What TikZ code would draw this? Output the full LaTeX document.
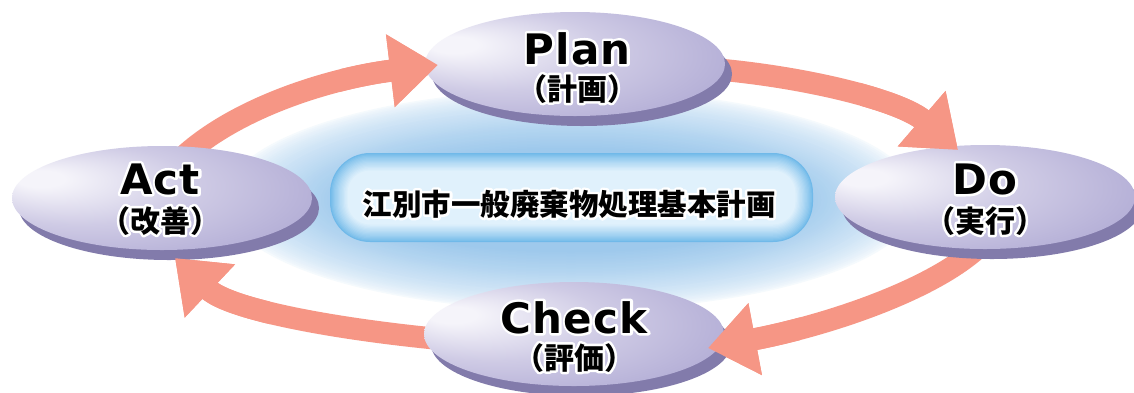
\documentclass[tikz,border=0pt]{standalone}
\usepackage{fontspec}
\usetikzlibrary{shapes.geometric,arrows.meta}
\newfontfamily\latf{DejaVu Sans}[LetterSpace=3]
\newfontfamily\cjkf{Noto Sans CJK JP}
\definecolor{arr}{RGB}{246,150,133}
\definecolor{ellHi}{RGB}{245,244,250}
\definecolor{ellMid}{RGB}{207,203,229}
\definecolor{ellR}{RGB}{166,160,207}
\definecolor{ellSh}{RGB}{130,123,171}
\definecolor{glowC}{RGB}{158,201,236}
\definecolor{rectE}{RGB}{112,185,233}
\definecolor{rectIn}{RGB}{224,241,252}
\pgfdeclareradialshading{ellsh}{\pgfpoint{-22bp}{10bp}}{color(0bp)=(ellHi); color(4bp)=(ellHi); color(19bp)=(ellMid); color(42bp)=(ellR); color(50bp)=(ellR)}
% white outline: stroked copy under the filled text
\newcommand\halo[1]{\makebox[0pt][l]{\special{pdf:literal direct 1 Tr 5 w 1 j 1 1 1 RG}#1\special{pdf:literal direct 0 Tr 1 w 0 j 0 0 0 RG}}#1}
\tikzset{
  ellbase/.style={ellipse, minimum width=300pt, minimum height=104pt, inner sep=0pt},
  ellface/.style={ellbase, shade, shading=ellsh},
  ellshadow/.style={ellbase, fill=ellSh},
  arrowline/.style={line width=22pt, draw=arr, -{Triangle[width=70pt 0 1, length=48pt 0 1, color=arr]}},
  latlbl/.style={font=\latf\bfseries\fontsize{42}{42}\selectfont, anchor=base, inner sep=0pt},
  cjklbl/.style={font=\cjkf\bfseries\fontsize{30}{30}\selectfont, anchor=base, inner sep=0pt},
}
\newcommand\arrA{\draw[arrowline] (a1s) .. controls (225,110) and (330,78) .. (a1e);}
\newcommand\arrB{\draw[arrowline] (a2s) .. controls (800,75) and (900,100) .. (a2e);}
\newcommand\arrC{\draw[arrowline] (a3s) .. controls (950,285) and (830,325) .. (a3e);}
\newcommand\arrD{\draw[arrowline] (a4s) .. controls (340,330) and (230,310) .. (a4e);}
\begin{document}
\begin{tikzpicture}[x=1pt,y=-1pt]
\useasboundingbox (0,0) rectangle (1134,392);
\fill[white] (0,0) rectangle (1134,392);
% background glow
\coordinate (glow) at (571,200);
\foreach \i in {0,...,40}{
  \pgfmathsetmacro\tt{\i/40}
  \pgfmathsetmacro\rx{350-\tt*125}
  \pgfmathsetmacro\ry{112-\tt*60}
  \pgfmathtruncatemacro\pp{100*(\tt)^0.6}
  \fill[glowC!\pp!white] (glow) ellipse [x radius=\rx pt, y radius=\ry pt];
}
% central box
\node[fill=rectE, rounded corners=40pt, minimum width=483pt, minimum height=89pt, inner sep=0pt] (core) at (571.5,197.5) {};
\foreach \i in {1,...,14}{
  \pgfmathsetmacro\dd{\i*1.25}
  \pgfmathtruncatemacro\pp{100*(\i/14)^0.8}
  \pgfmathsetmacro\rr{40-\dd}
  \fill[rectIn!\pp!rectE, rounded corners=\rr pt] (330+\dd,153+\dd) rectangle (813-\dd,242-\dd);
}
\node[font=\cjkf\bfseries\fontsize{29.5}{30}\selectfont, inner sep=0pt] (title) at (569,204) {\halo{江別市一般廃棄物処理基本計画}};
% arrow end points
\coordinate (a1s) at (172,168); \coordinate (a1e) at (438,65);
\coordinate (a2s) at (700,68);  \coordinate (a2e) at (958,150);
\coordinate (a3s) at (990,235); \coordinate (a3e) at (708,348);
\coordinate (a4s) at (450,340); \coordinate (a4e) at (175,258);
\arrA \arrB \arrC \arrD
% ellipses
\node[ellshadow] (planS) at (582,74) {};
\node[ellface] (plan) at (575,64) {};
\node[ellshadow] (actS) at (169,208) {};
\node[ellface] (act) at (162,198) {};
\node[ellshadow] (doS) at (992,207) {};
\node[ellface] (do) at (985,197) {};
\node[ellshadow] (checkS) at (581,344) {};
\node[ellface] (check) at (574,334) {};
% labels
\node[latlbl] (planT) at (577,64) {\halo{Plan}};
\node[cjklbl] (planJ) at (577,100) {\halo{（計画）}};
\node[latlbl] (actT) at (160,194) {\halo{Act}};
\node[cjklbl] (actJ) at (160,232) {\halo{（改善）}};
\node[latlbl] (doT) at (985,194) {\halo{Do}};
\node[cjklbl] (doJ) at (985,232) {\halo{（実行）}};
\node[latlbl] (checkT) at (574,333) {\halo{Check}};
\node[cjklbl] (checkJ) at (574,369) {\halo{（評価）}};
% arrow heads over target ellipses
\begin{scope}\clip (340,0) rectangle (475,140); \arrA \end{scope}
\begin{scope}\clip (860,60) rectangle (1010,170); \arrB \end{scope}
\begin{scope}\clip (690,280) rectangle (800,392); \arrC \end{scope}
\begin{scope}\clip (150,240) rectangle (270,340); \arrD \end{scope}
\end{tikzpicture}
\end{document}
